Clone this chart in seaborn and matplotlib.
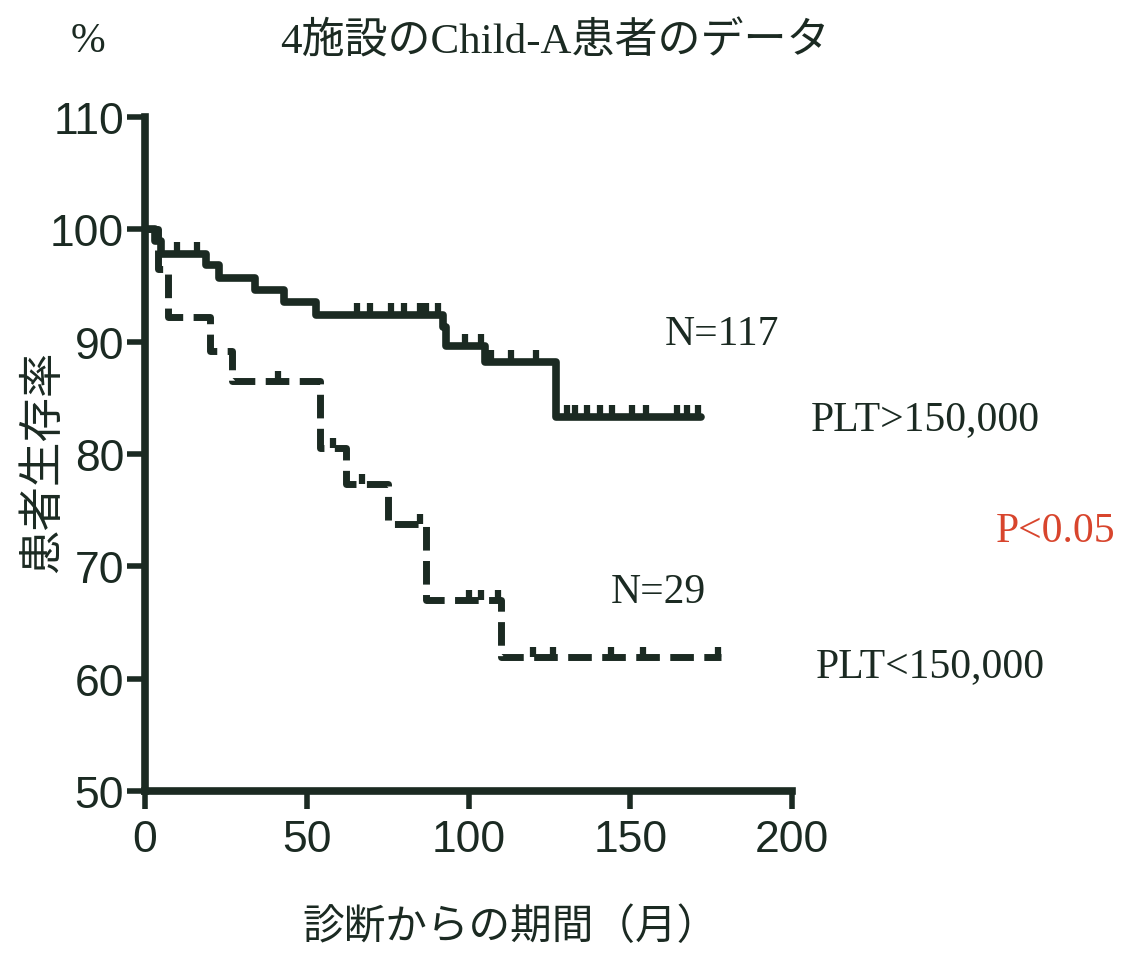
import matplotlib
matplotlib.use("Agg")
import matplotlib.pyplot as plt
import seaborn as sns
import pandas as pd

# step points of the two survival curves (months, % surviving)
hi_time = [0, 3, 5, 19, 23, 34, 43, 53, 92, 93, 105, 127, 172]
hi_surv = [100, 99.0, 97.8, 96.8, 95.7, 94.6, 93.5, 92.4, 91.3, 89.6, 88.2, 83.3, 83.3]
lo_time = [0, 4, 7, 20, 27, 54, 62, 75, 87, 110, 178]
lo_surv = [100, 96.5, 92.2, 89.2, 86.5, 80.5, 77.3, 73.8, 67.0, 61.9, 61.9]

# censored observations
hi_cens_t = [10, 16, 65.5, 69.5, 76, 80, 85, 87, 90.5, 99, 104, 107, 113, 121,
             130.5, 133, 136.5, 140.5, 144.5, 150.5, 155, 164.5, 167.5, 171]
hi_cens_s = [97.8, 97.8, 92.4, 92.4, 92.4, 92.4, 92.4, 92.4, 92.4, 89.6, 89.6, 88.2, 88.2, 88.2,
             83.3, 83.3, 83.3, 83.3, 83.3, 83.3, 83.3, 83.3, 83.3, 83.3]
lo_cens_t = [41, 58, 67, 85, 100, 104, 109, 120, 126, 144, 154, 177]
lo_cens_s = [86.5, 80.5, 77.3, 73.8, 67.0, 67.0, 67.0, 61.9, 61.9, 61.9, 61.9, 61.9]

x_ticks = [0, 50, 100, 150, 200]
y_ticks = [50, 60, 70, 80, 90, 100, 110]

ink = "#1b2a22"
serif = ["Liberation Serif", "Noto Sans CJK JP"]
cjk = ["Noto Sans CJK JP", "DejaVu Sans"]
sans = ["Liberation Sans", "DejaVu Sans"]

sns.set_style("ticks")
plt.rcParams["font.family"] = cjk

W, H = 1122, 954
fig = plt.figure(figsize=(W / 100, H / 100), dpi=100)
ax = fig.add_axes([145 / W, 1 - 792 / H, (792 - 145) / W, (792 - 118) / H])

hi = pd.DataFrame({"t": hi_time, "s": hi_surv})
lo = pd.DataFrame({"t": lo_time, "s": lo_surv})

sns.lineplot(data=hi, x="t", y="s", ax=ax, estimator=None, color=ink,
             drawstyle="steps-post", linewidth=5.5, clip_on=False, zorder=3)
sns.lineplot(data=lo, x="t", y="s", ax=ax, estimator=None, color=ink,
             drawstyle="steps-post", linewidth=5.0, linestyle=(0, (3.4, 1.5)),
             clip_on=False, zorder=3)

tick_mark = [(0, 0), (0, 1)]
ax.plot(hi_cens_t, hi_cens_s, linestyle="none", marker=tick_mark, markersize=17,
        markeredgewidth=4.5, color=ink, clip_on=False, zorder=3)
ax.plot(lo_cens_t, lo_cens_s, linestyle="none", marker=tick_mark, markersize=15,
        markeredgewidth=4.5, color=ink, clip_on=False, zorder=3)

ax.set_xlim(0, 200)
ax.set_ylim(50, 110)
ax.set_xticks(x_ticks)
ax.set_yticks(y_ticks)
ax.set_xlabel("")
ax.set_ylabel("")
sns.despine(ax=ax)
for side in ["left", "bottom"]:
    ax.spines[side].set_linewidth(5.5)
    ax.spines[side].set_color(ink)
    ax.spines[side].set_capstyle("projecting")
ax.tick_params(axis="both", length=13, width=4, color=ink, pad=2,
               labelsize=32, labelcolor=ink)
ax.tick_params(axis="x", pad=7)
for lab in ax.get_xticklabels() + ax.get_yticklabels():
    lab.set_family(sans)

fig.text(88 / W, 1 - 42 / H, "%", ha="center", va="center", fontsize=30,
         family=serif, color=ink)
fig.text(555 / W, 1 - 42 / H, "4施設のChild-A患者のデータ", ha="center", va="center",
         fontsize=31, family=serif, color=ink)
fig.text(42 / W, 1 - 462 / H, "患者生存率", ha="center", va="center", rotation=90,
         fontsize=32, family=cjk, color=ink)
fig.text(510 / W, 1 - 928 / H, "診断からの期間（月）", ha="center", va="center",
         fontsize=30, family=cjk, color=ink)

fig.text(722 / W, 1 - 335 / H, "N=117", ha="center", va="center", fontsize=30,
         family=serif, color=ink)
fig.text(925 / W, 1 - 420 / H, "PLT>150,000", ha="center", va="center", fontsize=30,
         family=serif, color=ink)
fig.text(1056 / W, 1 - 532 / H, "P<0.05", ha="center", va="center", fontsize=30,
         family=serif, color="#d8452d")
fig.text(658 / W, 1 - 593 / H, "N=29", ha="center", va="center", fontsize=30,
         family=serif, color=ink)
fig.text(930 / W, 1 - 667 / H, "PLT<150,000", ha="center", va="center", fontsize=30,
         family=serif, color=ink)

fig.savefig("out.png", dpi=100, facecolor="white")
